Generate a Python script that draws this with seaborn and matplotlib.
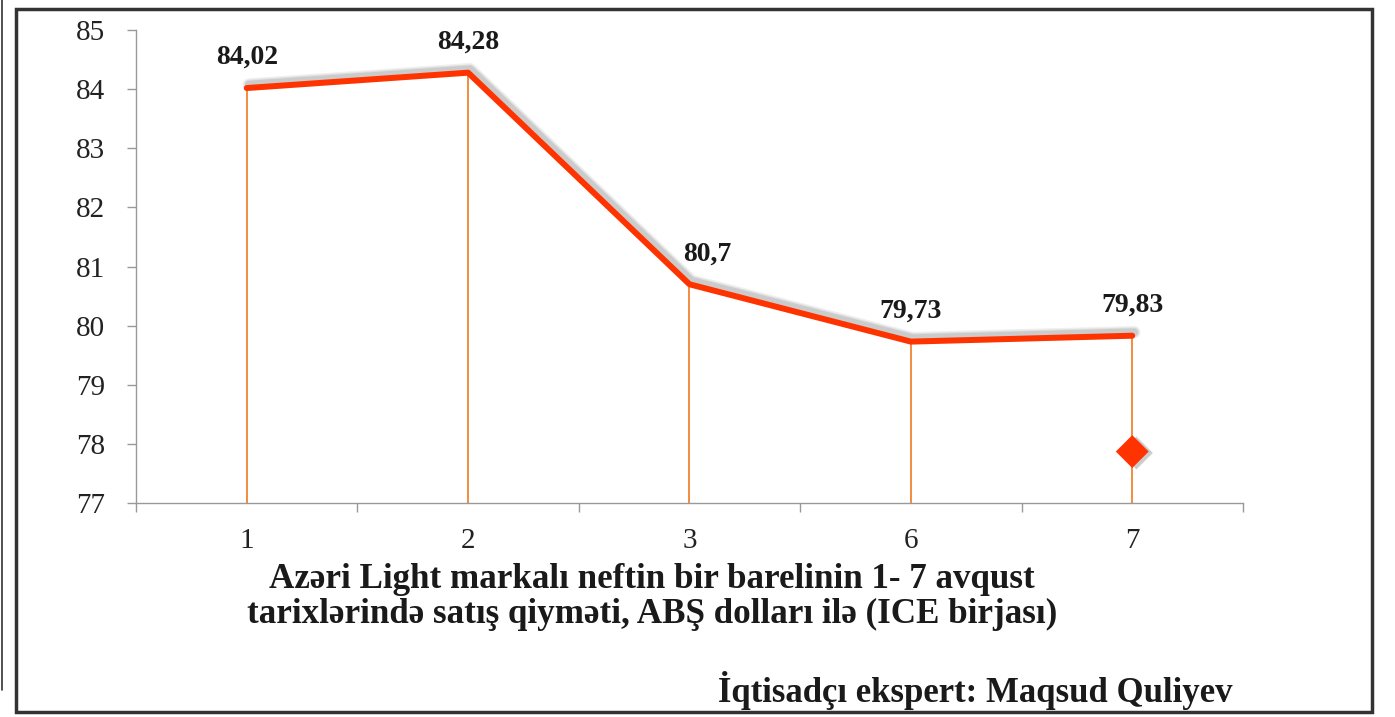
import numpy as np
import pandas as pd
import matplotlib
matplotlib.use("Agg")
import matplotlib.pyplot as plt
import matplotlib.patheffects as pe
from matplotlib.patches import Rectangle
from matplotlib.lines import Line2D
import seaborn as sns

# data
days = ["1", "2", "3", "6", "7"]
prices = [84.02, 84.28, 80.7, 79.73, 79.83]
price_labels = ["84,02", "84,28", "80,7", "79,73", "79,83"]
marker_day = ["7"]
marker_y = [77.87]
yticks = [77, 78, 79, 80, 81, 82, 83, 84, 85]

title_lines = ["Azəri Light markalı neftin bir barelinin 1- 7 avqust",
               "tarixlərində satış qiyməti, ABŞ dolları ilə (ICE birjası)"]
author = "İqtisadçı ekspert: Maqsud Quliyev"

sns.set_theme(style="white")
plt.rcParams['font.family'] = ['Liberation Serif', 'DejaVu Serif']

df = pd.DataFrame({"day": days, "price": prices})
df["pos"] = np.arange(len(days))

fig = plt.figure(figsize=(13.95, 7.17), dpi=100)
ax = fig.add_axes([0.0975, 0.2985, 0.7935, 0.6595])

# drop lines
ax.vlines(df["pos"], 77, df["price"], color="#F07820", linewidth=1.2, zorder=2)

# soft shadow: a few wide, faint strokes
shadow = [pe.SimpleLineShadow(offset=(1.5, 2.5), shadow_color="gray", alpha=a, linewidth=w)
          for w, a in [(9, 0.12), (7, 0.15), (5.5, 0.2)]]
sns.lineplot(data=df, x="pos", y="price", ax=ax, color="#FF3300", linewidth=4.3,
             zorder=3, solid_capstyle="round", path_effects=shadow + [pe.Normal()])

# odd diamond marker
mpos = [days.index(d) for d in marker_day]
ax.scatter(mpos, marker_y, marker="D", s=280, color="#FF3300", zorder=4, linewidths=0,
           path_effects=[pe.SimplePatchShadow(offset=(3, -1), shadow_rgbFace="gray", alpha=0.4), pe.Normal()])

for i, (v, lab) in enumerate(zip(prices, price_labels)):
    dx = 13 if lab == "80,7" else 0
    ax.annotate(lab, (i, v), xytext=(dx, 22), textcoords="offset points",
                ha="center", va="center", fontsize=20, fontweight="bold", color="#1a1a1a")

ax.set_xlim(-0.5, len(days) - 0.5)
ax.set_ylim(77, 85)
ax.set_yticks(yticks)
ax.set_yticklabels([str(t) for t in yticks], fontsize=21, color="#222222")
ax.set_xticks(df["pos"])
ax.set_xticklabels(days, fontsize=21, color="#222222")
ax.set_xticks(np.arange(-0.5, len(days), 1), minor=True)
ax.tick_params(axis="x", which="major", length=0, pad=18)
ax.tick_params(axis="x", which="minor", length=6.5, width=1, color="#999999", direction="out")
ax.tick_params(axis="y", which="major", length=6.5, width=1, color="#999999", direction="out", pad=16)
ax.xaxis.set_tick_params(bottom=True, which="minor")
ax.yaxis.set_tick_params(left=True)
for s in ["top", "right"]:
    ax.spines[s].set_visible(False)
for s in ["left", "bottom"]:
    ax.spines[s].set_color("#999999")
    ax.spines[s].set_linewidth(1)
ax.set_xlabel("")
ax.set_ylabel("")

fig.text(0.4675, 1 - 580 / 717, title_lines[0], ha="center", va="center", fontsize=25.2,
         fontweight="bold", color="#1a1a1a")
fig.text(0.4675, 1 - 614 / 717, title_lines[1], ha="center", va="center", fontsize=25.2,
         fontweight="bold", color="#1a1a1a")
fig.text(1232 / 1395, 1 - 690 / 717, author, ha="right", va="center", fontsize=25,
         fontweight="bold", color="#1a1a1a")

# outer frame
fig.patches.append(Rectangle((16 / 1395, 1 - 712 / 717), (1372 - 16) / 1395, (712 - 9) / 717,
                             transform=fig.transFigure, fill=False, edgecolor="#333333",
                             linewidth=2.5, figure=fig))
fig.lines.append(Line2D([2 / 1395, 2 / 1395], [1 - 690 / 717, 1], transform=fig.transFigure,
                        color="#333333", linewidth=1.2))

fig.savefig("out.png", dpi=100)
